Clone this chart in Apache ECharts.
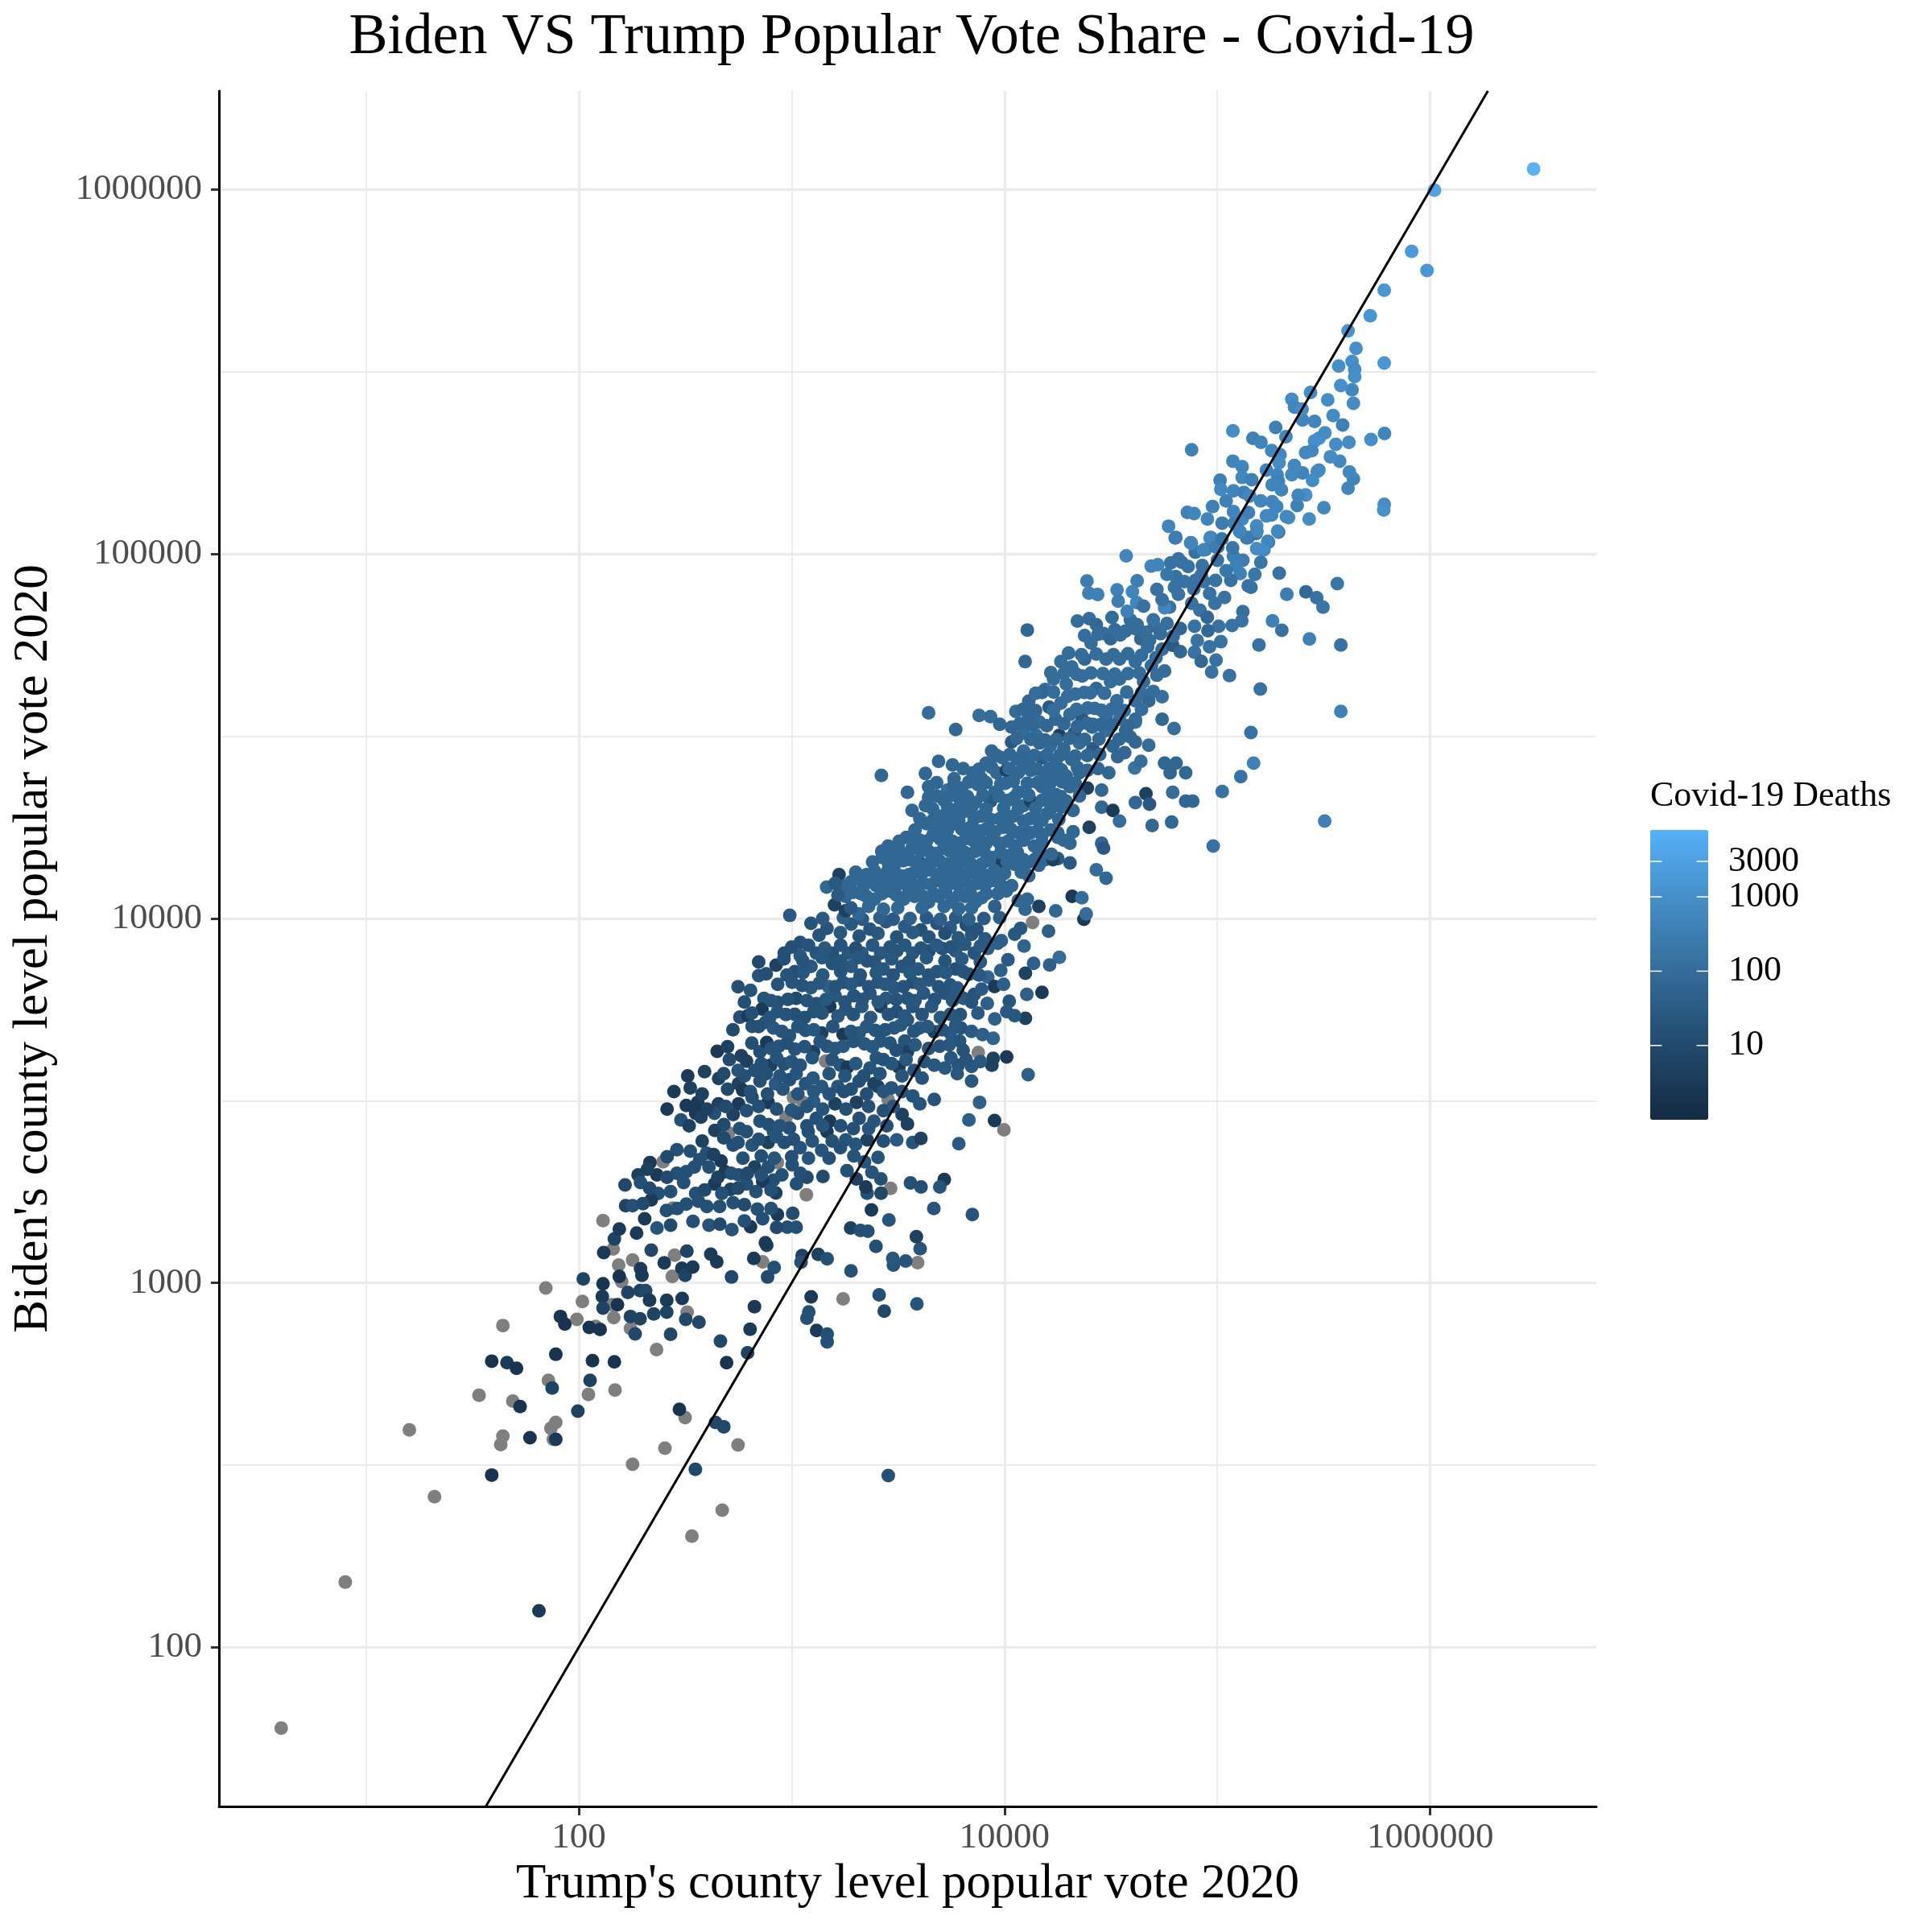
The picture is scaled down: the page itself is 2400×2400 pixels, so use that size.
<!DOCTYPE html>
<html><head><meta charset="utf-8">
<script src="https://cdn.jsdelivr.net/npm/echarts@6/dist/echarts.min.js"></script>
<style>html,body{margin:0;padding:0;background:#fff}#chart{width:2400px;height:2400px}</style>
</head><body><div id="chart"></div>
<script>
// ---------------- texts & ticks ----------------
const chartTitle = 'Biden VS Trump Popular Vote Share - Covid-19';
const xAxisTitle = "Trump's county level popular vote 2020";
const yAxisTitle = "Biden's county level popular vote 2020";
const legendTitle = 'Covid-19 Deaths';
const xTickValues = [100, 10000, 1000000];
const xTickLabels = ['100', '10000', '1000000'];
const yTickValues = [100, 1000, 10000, 100000, 1000000];
const yTickLabels = ['100', '1000', '10000', '100000', '1000000'];
const colorbarBreaks = [10, 100, 1000, 3000];
const colorbarLabels = ['10', '100', '1000', '3000'];
const deathsRange = [1, 7950];
const xRange = [2.04, 6030000];
const yRange = [36.6, 1866000];
const ablineSlope = 1, ablineIntercept = 0;

// ---------------- county rows: [Trump votes, Biden votes, Covid-19 deaths (null = NA)] ----------------
const countiesLowerLeft = [
[4,60,null],[8,151,null],[21,259,null],[16,395,null],[39,297,2],[65,126,3],[34,492,null],[44,764,null],
[39,610,2],[46,604,3],[51,583,2],[49,474,null],[53,458,2],[44,380,null],[43,360,null],[59,376,2],
[78,637,2],[72,540,null],[75,515,6],[78,414,null],[74,399,null],[76,372,null],[78,372,3],[70,968,null],
[82,809,2],[86,771,2],[98,794,null],[105,1025,6],[104,889,null],[99,445,5],[113,540,5],[111,494,null],
[116,612,2],[147,607,2],[148,508,null],[112,755,2],[120,760,null],[126,745,2],[130,995,2],[129,918,3],
[130,853,6],[143,871,null],[146,803,null],[152,871,2],[131,1211,3],[130,1483,null],[145,1239,null],[147,1320,6],
[154,1119,null],[155,1042,2],[159,1009,null],[170,942,6],[175,809,6],[194,797,6],[184,725,8],[175,750,null],
[179,318,null],[165,1857,8],[166,1630,6],[155,1405,3],[219,1230,8],[179,1156,null],[195,1094,3],[198,1049,3],
[194,953,6],[206,953,8],[215,896,3],[225,822,6],[259,831,6],[259,896,3],[270,723,8],[232,656,null],
[306,907,3],[318,794,8],[323,831,null],[367,780,8],[275,1042,null],[252,1135,3],[282,1191,null],[305,1097,3],
[316,1049,6],[343,1106,3],[322,1222,6],[417,1199,3],[445,1143,3],[522,1038,8],[664,1167,3],[731,1143,null],
[669,861,3],[638,746,3],[463,692,8],[495,604,2],[621,643,6],[297,450,2],[316,427,null],[254,352,null],
[439,414,8],[480,403,8],[560,359,null],[353,308,8],[472,238,null],[340,202,null]
];
const countiesLowerRight = [
[2845,296,15],[1235,916,3],[1745,904,null],[1204,832,15],[1180,800,15],[1310,741,3],[1469,724,15],[1469,689,15],
[2577,928,15],[2723,837,8],[3878,876,20],[1901,1079,15],[3006,1119,20],[2987,1167,25],[3434,1148,20],[3908,1137,null],
[4016,1241,20],[3855,1340,5],[2490,1260,15],[2864,1489,20],[4656,1600,20],[7063,1541,20],[5212,1923,3],[4966,1834,20],
[4054,1834,15],[3617,1880,15],[2917,1818,null],[2630,1763,8],[2263,1763,15],[2230,1834,3],[2371,1586,3],[2625,1929,15],
[2383,2013,20],[1893,1414,5],[2105,1393,15],[2281,1386,15],[2014,1929,5],[1820,2033,15],[1403,1958,10],[1180,1950,10],
[1054,1871,15],[1173,1746,null],[843,1766,5],[821,1914,15],[858,1541,3],[1012,1552,12],[955,1422,15],[1050,1422,15],
[1333,1197,5],[1469,1165,15],[1120,1189,5],[1107,1140,15],[828,1102,15],[771,1038,12],[764,1268,5]
];
const countiesCoreLower = [
[1233,9700,20],[1466,9400,20],[1904,9650,25],[2332,9350,20],[2776,9800,25],[3400,9500,30],[4048,9300,15],[4814,9700,20],
[5561,9450,30],[6613,9600,15],[7421,9350,20],[11160,9060,25],[12360,8400,60],[1097,8600,15],
[923,8040,15],[1097,7900,25],[1306,8040,20],[1553,8040,15],[1849,8040,25],[2137,8040,30],[2620,8040,25],[3117,8150,20],
[3707,8040,25],[4415,8150,15],[5100,8270,20],[5892,8150,30],[7210,8040,20],[8351,8280,40],[10380,7710,30],
[845,7450,5],[1035,7150,15],[1233,7390,25],[1553,7520,20],[1904,7390,25],[2264,7650,20],[2697,7270,25],[3303,7390,20],
[3930,7270,25],[4814,7150,20],[5892,7270,15],[6806,7030,20],[8351,6910,60],[12540,7080,5],
[700,6970,20],[1006,6680,20],[1233,6460,25],[1488,6510,40],[1745,6680,20],[2076,6780,15],[2545,6680,20],[3028,6460,25],
[3707,6680,15],[4415,6780,25],[5561,6570,20],[6425,6040,30],[7210,6190,20],[8980,6510,3],[10530,5930,20],[12730,6190,40],
[641,6350,20],[741,6040,20],[857,5890,15],[1050,6040,10],[1306,5840,15],[1600,6140,25],[1960,6140,20],[2332,6240,20],
[2776,6040,25],[3500,6040,20],[4168,6240,25],[5249,6240,20],[6064,6240,25],
[571,5360,15],[623,5410,3],[726,5640,3],[857,5550,20],[1035,5460,15],[1268,5550,20],[1510,5740,3],[1796,5640,20],
[2137,5740,25],[2620,5740,5],[3117,5550,15],[3707,5740,20],[4544,5740,25],[5561,5460,25],[10240,5550,30],[12540,5320,5],[11160,5410,25],
[652,5060,15],[753,5190,20],[821,5010,25],[977,4770,20],[1162,4930,20],[1384,4850,5],[1745,4810,3],[2076,4850,25],
[2472,4930,20],[3028,5010,25],[3500,5270,20],[3990,5010,30],[4677,4890,5],[5561,4850,30],[6242,5010,20],[6152,4610,20],[8850,4690,60],
[447,4320,3],[580,4200,5],[710,4310,15],[764,4570,3],[870,4460,20],[1035,4380,20],[1268,4310,5],[1466,4460,20],
[1745,4460,25],[2200,4530,25],[2620,4610,20],[3400,4610,20],[3500,4310,5],[4955,4460,20],[7530,4290,null],[10240,4170,3],
[614,4060,5],[560,3830,20],[670,3830,15],[798,3960,5],[923,3990,15],[1097,3960,20],[1445,4060,null],[1695,3960,20],
[1828,3910,3],[2332,3890,20],[2697,4100,20],[3191,3910,3],[3764,3830,20],[4677,3960,25],[5249,3890,25],[6064,3960,20],
[7005,3930,25],[8723,3960,5],[12910,3730,40],[8850,4130,5],
[325,3700,3],[334,3430,5],[454,3640,5],[563,3520,5],[589,3380,3],[710,3580,15],[840,3520,30],[977,3610,15],
[1162,3520,20],[1384,3460,25],[1647,3460,20],[1904,3400,15],[2076,3580,15],[2436,3520,5],[2942,3430,20],[7005,3580,25],
[320,3070,3],[362,3130,3],[453,3100,5],[563,3100,3],[652,3230,15],[775,3130,3],[1020,3230,null],[1130,3130,null],
[1268,3150,30],[1600,3100,5],[2017,3130,5],[2840,3190,null],[3707,3260,20],[4677,3190,20],[7638,3130,40],[2545,3460,5],
[302,2800,15],[354,2920,3],[375,2850,5],[434,2920,15],[531,2900,5],[614,2970,15],[710,2780,15],[942,2850,null],
[1066,2920,15],[1306,2830,15],[1510,2780,3],[2076,2830,15],[2436,2780,20],[2697,2970,15],[3303,2900,5],[3500,2730,5],
[6806,2800,40],[8980,2790,3],[9940,2630,null],
[436,2620,5],[505,2580,null],[614,2600,15],[821,2600,20],[977,2660,15],[1197,2600,15],[1466,2600,3],[1796,2470,20],
[2264,2470,5],[3117,2470,30],[3707,2430,20],[4048,2490,5],[6100,2410,30],
[289,2320,15],[334,2300,15],[398,2270,15],[466,2160,3],[531,2390,15],[652,2390,20],[775,2430,5],[923,2430,15],
[1097,2350,20],[1384,2310,20],[1695,2350,15],[1960,2230,20],[2545,2210,20],[249,2150,null],
[216,2140,3],[233,1980,3],[190,1980,5],[289,2000,15],[349,2080,15],[409,2080,15],[487,2020,3],[563,1980,15],
[670,2080,5],[775,2080,15],[857,2140,null],[1006,2110,15],
[195,1885,15],[236,1760,15],[311,1885,15],[354,1760,15],[434,1870,3],[516,1805,5],[614,1870,15],[731,1900,3],
[179,1630,15],[219,1690,3],[258,1580,15],[277,1605,null],[320,1645,15],[365,1675,15],[459,1620,15],[531,1660,15],[690,1595,15],
[204,1500,3],[233,1415,20],[187,1370,3],[344,1475,15],[409,1440,20],[524,1400,20],[641,1425,3],[731,1500,15],[753,1290,3],
[16100,9230,40],[23600,9950,3],[13550,9750,null],[11900,9400,25],[18100,7820,100],[16300,7460,40],[13700,7530,40],[15000,6270,3]
];
const countiesCoreLowerB = [
[1345,9000,20],[1695,9150,25],[2076,8950,20],[2545,9100,25],[3117,8900,20],[3707,9150,30],[4415,8900,20],[5249,9100,15],[6064,8850,25],[7005,9050,20],[8100,8800,30],[9660,8700,40],
[1000,8350,15],[1200,8450,20],[1430,8300,25],[1700,8450,20],[2000,8300,15],[2400,8450,25],[2900,8350,20],[3400,8450,25],[4050,8300,20],[4800,8450,30],[5600,8350,20],[6500,8500,25],[7700,8400,30],[9300,8550,40],
[700,7600,10],[920,7750,15],[1130,7650,20],[1390,7800,25],[1700,7650,20],[2050,7800,25],[2450,7600,20],[2950,7750,25],[3550,7600,20],[4300,7800,25],[5250,7650,20],[6300,7750,30],[7700,7600,30],
[760,7050,15],[950,7000,20],[1130,7100,20],[1400,7000,25],[1700,7150,20],[2100,7000,20],[2500,7100,25],[3000,7000,20],[3600,7100,25],[4400,7000,20],[5300,7100,25],[6400,7150,20],[7600,7000,30],[9600,7200,40],
[560,6500,15],[860,6600,20],[1120,6550,20],[1350,6650,25],[1600,6500,20],[1900,6600,25],[2300,6500,20],[2750,6600,25],[3350,6500,20],[4000,6600,25],[4900,6500,20],[6000,6450,30],[7800,6400,30],[9900,6600,40],
[600,5900,15],[800,5950,20],[960,6000,15],[1180,5950,20],[1450,6000,25],[1780,5900,20],[2150,6000,20],[2550,5900,25],[3100,6000,20],[3800,5950,25],[4700,6000,20],[5700,5950,25],[7000,5900,20],[8300,5850,40],
[650,5500,15],[790,5350,20],[940,5450,20],[1150,5350,15],[1390,5500,20],[1650,5400,25],[1950,5450,20],[2350,5350,25],[2850,5450,20],[3400,5400,25],[4100,5450,20],[5000,5350,25],[6200,5450,20],[7500,5500,30],[9000,5300,40],
[530,4950,10],[700,5050,15],[900,4900,20],[1070,5050,20],[1270,4950,25],[1560,5050,20],[1900,4900,20],[2250,5050,25],[2750,4950,20],[3250,5100,25],[3750,4900,20],[4350,5050,25],[5100,4950,20],[5900,5100,25],[7000,4900,30],[7900,4800,40],
[500,4450,5],[650,4550,15],[800,4400,20],[950,4550,15],[1150,4450,20],[1360,4600,20],[1600,4400,25],[1950,4600,20],[2400,4450,25],[2900,4550,20],[3100,4350,15],[3800,4500,25],[4400,4400,20],[5500,4500,25],[6400,4350,20],
[510,4100,10],[720,4000,15],[850,4150,20],[1000,4050,20],[1250,4150,20],[1550,4100,20],[2000,4000,25],[2500,4150,20],[2950,4000,20],[3450,4100,25],[4200,4050,20],[5600,4150,25],[6600,4100,20],[7700,4050,25],
[390,3800,5],[480,3750,10],[600,3700,15],[760,3750,15],[880,3700,20],[1050,3750,20],[1260,3650,25],[1500,3750,20],[1780,3700,20],[2180,3700,15],[2600,3750,20],[3300,3700,20],[4100,3650,20],[6000,3750,25],
[280,3350,3],[380,3300,5],[500,3400,10],[640,3350,15],[770,3300,15],[910,3400,20],[1070,3300,20],[1270,3350,25],[1500,3300,20],[1760,3350,15],[2250,3300,15],[2700,3350,20],[3300,3350,20],
[260,3000,3],[400,3000,5],[490,3050,10],[700,3050,15],[850,3000,15],[1000,2980,20],[1180,3050,20],[1400,3000,20],[1800,3000,15],[2300,3050,15],[3000,3050,20],[4000,3100,20],
[330,2700,5],[480,2720,10],[570,2650,15],[780,2720,15],[880,2700,20],[1180,2700,15],[1400,2700,20],[1700,2700,15],[1950,2650,15],[2300,2650,20],[2800,2700,15],
[380,2450,5],[480,2500,10],[560,2430,15],[700,2480,15],[850,2520,20],[1020,2480,15],[1250,2450,20],[1550,2450,15],[2000,2400,20],[2700,2450,15],
[260,2220,10],[370,2180,15],[430,2250,5],[590,2200,15],[720,2230,15],[830,2200,20],[1000,2220,15],[1200,2200,20],[1500,2200,15],[2200,2150,20],
[210,2050,5],[260,1950,10],[320,2020,15],[450,1950,5],[520,2000,15],[620,2000,10],[720,1980,15],[900,1980,15],[1100,2000,15],
[215,1820,10],[270,1780,15],[390,1800,10],[470,1760,15],[560,1820,10],[680,1780,15],[800,1800,15],
[200,1650,10],[290,1600,15],[400,1620,15],[600,1640,10],[800,1600,15],
[270,1440,10],[460,1450,10],[600,1480,15],[850,1420,10],
[1400,10000,30],[1750,10050,40],[2150,9950,30],[2600,10050,40],[3000,9950,30],[3600,10000,40],[4300,10050,30],[5000,9950,40],[5900,10050,30],[6800,9950,40],[8000,10000,30],[9500,10050,40]
];
const countiesCoreUpper = [
[12800,61900,70],[12500,50700,70],[22000,65500,100],[25000,66500,100],[27000,64000,80],[32000,67000,100],[39000,66000,100],[50500,63500,100],
[58000,64500,120],[67000,62500,70],[25500,57000,100],[29200,60500,100],[31500,58600,70],[35000,60000,100],[43700,58600,70],[47000,55700,100],
[55000,54800,100],[61700,56200,30],[67000,54000,70],[18400,50700,100],[20700,49000,100],[23800,51500,70],[30000,51500,100],[34700,51500,100],
[41200,50700,100],[49000,49400,100],[56500,47800,100],[17000,45400,100],[15500,42500,100],[19500,44000,100],[23200,46300,100],[27000,42800,70],
[31500,44700,100],[34700,45400,100],[45000,44700,100],[13000,39500,70],[15000,41700,70],[16200,38000,30],[18400,39000,100],[19800,40700,100],
[23700,41700,100],[26500,37700,100],[33700,39600,100],[41200,39600,100],[47600,39600,70],[55000,40600,120],[11300,37000,100],[13000,35800,70],
[14600,34600,100],[17400,35200,70],[20300,36300,100],[23200,35200,30],[26000,34100,100],[30000,35800,100],[34700,35200,100],[41200,35200,70],
[55000,35200,70],[62600,33200,120],[7600,36100,100],[8600,35800,100],[9500,34100,70],[4400,36700,100],[5900,33000,70],
[10800,33500,70],[12300,32300,100],[14100,31800,100],[18100,31800,5],[21300,32300,30],[25800,33500,70],[30000,32800,100],[37100,32800,70],[41200,34600,100],
[10800,30500,30],[12300,28800,100],[14600,30300,70],[16400,29700,100],[19000,29200,70],[22500,30300,100],[26000,29200,30],[32300,29700,70],
[36700,28500,70],[41200,30500,70],[47600,29900,100],
[8700,28800,70],[9800,27600,70],[11500,27300,70],[13000,26400,70],[15000,27600,30],[17400,26700,70],[20700,27300,70],[24500,25500,70],
[30900,25100,70],[40900,25900,150],[43700,27000,100],[56500,26700,70],[64000,26700,70],[60000,25100,70],[71000,25100,70],
[4900,27000,70],[5700,26400,70],[8200,26700,70],[4250,25000,70],[2640,24700,70],
[5800,24200,70],[7100,25100,70],[7800,24200,70],[9200,25100,70],[10200,25500,5],[11600,25100,70],[13300,25500,70],[15500,24600,70],
[17400,24200,70],[19500,24600,70],[22500,25100,70],
[4400,23000,70],[5400,22500,100],[6300,22800,70],[7500,23300,70],[9000,22200,70],[10100,23500,70],[11600,22200,70],[15000,23000,70],
[17400,21900,70],[20300,23000,70],[24500,22800,5],[28600,22500,70],[46200,22000,5],[61700,22200,100],
[3500,22200,70],[4400,21500,70],[5200,21100,70],[6200,21100,70],[7300,20800,70],[8600,21000,30],[10400,21100,70],[12300,20400,70],
[13300,21000,5],[15000,21100,70],[17400,20400,70],[19500,21000,70],[41200,20800,70],[48000,20600,30],[71000,21000,70],
[3680,19800,70],[4250,20400,70],[4900,19100,70],[5650,19700,70],[6500,19700,70],[7800,19100,70],[9500,18800,70],[11000,19100,70],
[12300,18500,70],[14100,18800,70],[15900,19400,70],[28600,20200,70],[32300,19800,3],[34700,18500,100],
[4300,18200,70],[5000,17800,70],[5800,18200,70],[6900,17800,70],[8200,17600,70],[9800,17800,70],[11600,17200,70],[13300,17200,70],
[15000,16900,70],[17800,17200,70],[25000,17800,5],[49400,18000,70],[61000,18400,70],
[3460,16700,70],[4000,16400,70],[4600,16900,70],[5350,16700,70],[6150,16100,70],[7100,16400,70],[8200,16100,70],[9500,16100,70],
[11300,15800,70],[13800,15800,70],[17800,16700,70],[20300,16100,70],[28600,16100,70],[29200,15600,30],
[2840,15800,70],[3180,15600,70],[3680,15600,70],[4400,15300,70],[5200,15600,70],[5950,15000,70],[7300,15300,70],[8700,14700,70],
[10800,15000,70],[12300,14500,70],[13800,14500,70],[15500,14500,70],[17800,14600,30],[20300,14200,30],
[2670,14700,70],[3090,14200,70],[3600,14500,70],[4080,14100,5],[4600,14300,70],[5350,14100,70],[6300,14300,70],[7800,14100,70],
[9200,14100,70],[9800,14300,5],[11300,14100,70],[16900,14500,5],[27000,13600,100],[30000,12900,70],
[2450,13500,70],[2840,13600,70],[3270,13100,70],[3780,13400,70],[4400,13600,70],[5200,13800,70],[5900,13400,70],[7100,13400,70],
[8200,13100,70],[9000,13500,70],[11100,14100,70],[13000,13100,70],
[1670,13200,5],[1790,12300,70],[1460,12200,70],[2020,12900,70],[2320,12700,70],[2670,12500,70],[3090,12300,70],[3600,12700,70],
[4120,12500,70],[4900,12700,70],[5650,12500,70],[6500,12700,70],[7500,12500,70],[8700,12700,70],[10800,12300,70],
[1590,10900,5],[1790,11500,70],[2120,11700,70],[2450,11300,70],[2900,11900,70],[3360,11300,70],[3780,11500,70],[4400,11100,70],
[4900,11500,70],[5650,11100,70],[6500,11500,70],[7300,11100,70],[8200,11700,70],[10200,11900,70],[11600,11200,70],[14500,10800,5],
[20800,11500,3],[23100,11400,100],[17400,10500,70],[1790,10500,5],[2070,10300,70],[24200,10300,100],[980,10200,30]
];
const countiesCoreUpperB = [
[1900,10700,30],[2300,10800,70],[2700,10600,70],[3150,10700,70],[4100,10700,70],[5200,10800,70],[6100,10650,70],[7000,10700,70],[9000,10800,40],[12500,10600,70],
[1650,11600,30],[1950,11800,70],[2250,11500,70],[2650,11700,70],[3100,11600,70],[3550,11800,70],[4150,11500,70],[4650,11700,70],[5300,11800,70],[6100,11600,70],[6900,11800,70],[7800,11400,70],[9300,11700,70],[12800,11300,70],
[1600,12500,30],[1900,12600,70],[2180,12300,70],[2500,12300,70],[2900,12600,70],[3350,12500,70],[3850,12300,70],[4500,12400,70],[5250,12300,70],[6100,12350,70],[7000,12300,70],[8100,12350,70],[9500,12500,70],
[2000,13400,70],[2250,13200,70],[2620,13100,70],[3050,13400,70],[3550,13200,70],[4100,13300,70],[4800,13200,70],[5500,13100,70],[6500,13200,70],[7600,13300,70],[8600,13200,70],[10000,13300,70],[12000,13400,70],
[2400,14300,70],[2850,14200,70],[3350,14400,70],[3850,14300,70],[4350,14100,70],[4950,14400,70],[5800,14200,70],[6900,14200,70],[8400,14400,70],[10300,14300,70],[12800,14200,70],[14500,14000,70],
[2650,15300,70],[3000,15200,70],[3450,15000,70],[4050,15300,70],[4800,15100,70],[5550,15300,70],[6500,15200,70],[8000,15300,70],[9600,15200,70],[11500,15200,70],[14600,15200,70],[16600,15000,70],
[3200,16300,70],[3750,16500,70],[4300,16300,70],[5000,16500,70],[5700,16300,70],[6600,16600,70],[7700,16400,70],[8800,16600,70],[10400,16300,70],[12300,16400,70],[15000,16200,70],[19000,16400,70],
[3800,17500,70],[4700,17400,70],[5400,17500,70],[6300,17600,70],[7500,17400,70],[9000,17300,70],[10700,17600,70],[12400,17500,70],[14300,17400,70],[16500,17500,70],[21000,17300,70],
[4000,18800,70],[4600,18600,70],[5300,18700,70],[6100,18600,70],[7200,18800,70],[8600,18700,70],[10300,18600,70],[13200,18800,70],[15000,18600,70],[18000,18700,70],
[4600,20000,70],[5400,20200,70],[6000,20000,70],[7000,20200,70],[8200,20000,70],[9900,20100,70],[11600,20000,70],[14000,20100,70],[16500,20000,70],[18500,20200,70],[21000,19800,70],
[4800,21700,70],[5700,21800,70],[6700,21600,70],[7900,21800,70],[9400,21700,70],[11100,21500,70],[13000,21800,70],[16000,21700,70],[18400,21600,70],[22500,21700,70],
[4800,23600,70],[5800,23400,70],[6800,23700,70],[8200,23600,70],[9600,23400,70],[11000,23800,70],[12800,23500,70],[14300,23600,70],[16300,23400,70],[18700,23700,70],[21500,23500,70],
[6400,25800,70],[7600,25700,70],[8700,26000,70],[10500,25800,70],[12300,25900,70],[14200,25700,70],[16200,25800,70],[18500,25600,70],[22000,26000,70],[27500,25800,70],
[9200,28000,70],[10600,28200,70],[12000,27800,70],[13800,28000,70],[15800,28100,70],[18200,28000,70],[21500,27900,70],[24500,28000,70],[28000,28200,70],[34000,27800,70],
[11400,31200,70],[13300,31000,70],[15500,30900,70],[17500,31000,70],[20200,31200,70],[23800,31000,70],[27800,31100,70],[34500,31000,70],[39000,31500,70],
[11800,34300,70],[13500,34000,70],[15800,33800,70],[19000,34200,70],[22000,33700,70],[24500,34300,70],[28000,34000,70],[32000,33900,70],[38000,33800,70],
[12200,37500,70],[14000,37200,70],[17000,37300,100],[21800,37500,100],[24600,37800,100],[28500,37300,100],[32000,37600,100],[36500,37200,100],[44000,37500,100],
[14000,41500,100],[17000,41800,100],[21500,41300,100],[25300,41600,100],[29500,41500,100],[37500,41800,100],[44000,41600,100],[50000,42000,100],
[16500,47300,100],[19000,47000,100],[21800,46800,100],[25500,47200,100],[29000,47000,100],[33000,46800,100],[38000,47000,100],[43000,47200,100],[52000,46500,100],
[20000,53500,100],[23000,53000,100],[27000,53200,100],[32500,53000,100],[38000,53300,100],[44000,52800,100],[51500,52000,100],
[23800,59800,100],[27500,60200,100],[33000,62000,100],[37000,61500,100],[41000,62500,100],[46000,61000,100],[54000,60500,100],[62000,59500,100]
];
const countiesUpper = [
[63800,111100,150],[75000,107400,150],[93000,111100,150],[100500,104700,150],[87700,102900,150],[78800,101200,150],[128000,115000,150],[139600,111100,120],
[152000,113900,150],[173800,108000,150],[165500,102900,300],[194000,114900,150],
[65600,97000,150],[72900,92500,150],[60400,94600,150],[100000,96200,150],[84000,87600,150],[63800,86800,150],[119000,98700,300],[131800,96200,300],
[122400,92900,400],[128000,88400,400],[115600,84700,150],[98000,84700,150],[86400,84000,150],[78800,84700,150],[62900,81100,150],[77500,80300,150],
[65600,77600,150],[139600,81800,150],[143800,81100,150],[195200,88700,150],[212000,77600,300],[260800,78800,80],[293000,75900,150],[313500,71500,200],
[366100,83000,200],[181600,65600,400],[200800,61800,150],[270700,58500,400],[380300,56300,150],
[97400,73300,150],[75800,73300,150],[59600,71500,150],[82800,70200,150],[89700,67100,80],[131800,69500,120],[130200,65600,150],[117300,63700,150],
[101500,63400,150],[90300,61600,80],[78100,63400,150],
[80500,57900,150],[91900,55700,150],[103800,57500,150],[78100,53800,150],[84000,50800,80],[98600,51200,150],[94000,47500,150],[114000,46400,150],
[156800,56300,150],[159200,42600,150],[143800,32400,150],[380300,37000,400],
[148000,26700,400],[128800,24500,150],[105400,22300,150],[76600,21000,80],[319300,18500,400],[95600,15800,150],
[608000,529700,1500],[522700,450700,1500],[411200,410000,1200],[448300,367000,1000],[608000,334400,1500],[371500,328000,1000],[429400,338000,1000],[441800,321600,800],
[441800,307200,1000],[429400,282300,600],[435600,259400,800],[274000,277700,800],[223700,266000,800],[230300,253000,500],[251300,233300,500],[286300,231200,500],
[187900,222600,400],[387800,226000,400],[118300,217900,800],[146900,207900,400],[160300,202500,500],[300000,207900,1000],[286000,204300,1000],[278100,192400,600],
[415000,202500,800],[527000,206200,1000],[610000,214200,500],[179900,192400,500],[197000,187500,600],[195000,178200,800],[375600,179900,600],[118300,179900,500],
[130800,173700,500],[130800,162300,600],[191000,165200,500],[193500,158500,400],[223700,165200,600],[251300,167000,500],[294700,168600,800],[280000,159300,800],
[417200,168000,600],[435600,161000,500],[411200,151700,500],[181000,155000,500],[75700,193400,400],[103000,159500,400],[103800,150600,600],[119000,149100,500],
[133300,147600,400],[142000,144300,600],[181000,139300,500],[237100,135900,400],[260000,145300,1000],[316600,134100,600],[270000,124800,800],[608000,137000,800],
[605000,132200,1000],[216000,125900,800],[211000,126800,600],[179900,128000,600],[170000,127300,600],[119000,130800,500],[130800,124800,600],[153000,119600,800],
[153500,115600,600],[192000,115600,600],[172400,108400,500],[164000,102600,800],[153000,103500,800],[137500,110800,300],[120000,121600,400],[127000,115600,500],
[89800,124800,500],[105300,121600,300],[72300,130100,400],[77800,129200,500],[59000,119300,500],[63400,110800,300],[75500,107100,500],[86100,102600,500],
[92500,110800,600],[98700,104400,300],[37300,98900,500],[48900,92700,500],[52500,93500,500],[24400,84400,300],[24900,78200,400],[27400,77500,400],
[33800,79800,400],[34200,74300,300],[42000,84500,300],[39900,78900,500],[41800,73600,500],[37700,69600,400],[56500,71200,500],
[3060000,1140000,7900],[1047000,996500,3500],[818000,677000,2000],[966000,600000,1500]
];
const countiesUpperB = [
[45000,72000,150],[52000,80000,150],[58000,88000,200],[68000,95000,150],[85000,93000,150],[92000,78000,150],[108000,76000,150],[110000,90000,200],
[70000,84000,150],[50000,66000,150],[55000,75000,150],[118000,104000,200],[105000,110000,200],[160000,95000,200],[150000,88000,200],[42000,64000,100],[48000,58000,100],
[140000,130000,400],[160000,140000,500],[200000,150000,500],[230000,175000,600],[260000,190000,600],[320000,215000,800],[350000,240000,800],[210000,210000,600],
[170000,170000,500],[145000,160000,400],[190000,135000,500],[240000,145000,500],[300000,170000,700],[340000,185000,800],[360000,200000,800],[250000,250000,800],
[330000,265000,900],[380000,290000,1000],[110000,140000,400],[95000,135000,400]
];

// ---------------- build ----------------
const FONT = 'Liberation Serif';
const allCounties = [].concat(countiesLowerLeft, countiesLowerRight, countiesCoreLower, countiesCoreLowerB,
  countiesCoreUpper, countiesCoreUpperB, countiesUpper, countiesUpperB);
const withDeaths = allCounties.filter(r => r[2] != null).map(r => [r[0], r[1], Math.log10(r[2])]);
const noDeaths = allCounties.filter(r => r[2] == null).map(r => [r[0], r[1]]);

// ggplot-like Lab interpolation between low/high colours
function hex2rgb(h){return [1,3,5].map(i=>parseInt(h.substr(i,2),16));}
function toLin(c){c/=255;return c<=0.04045?c/12.92:Math.pow((c+0.055)/1.055,2.4);}
function fromLin(c){c=c<=0.0031308?12.92*c:1.055*Math.pow(c,1/2.4)-0.055;return Math.max(0,Math.min(255,Math.round(c*255)));}
function rgb2lab(rgb){const [r,g,b]=rgb.map(toLin);
  let X=(0.4124*r+0.3576*g+0.1805*b)/0.95047, Y=0.2126*r+0.7152*g+0.0722*b, Z=(0.0193*r+0.1192*g+0.9505*b)/1.08883;
  const f=t=>t>0.008856?Math.cbrt(t):7.787*t+16/116; const fx=f(X),fy=f(Y),fz=f(Z);
  return [116*fy-16,500*(fx-fy),200*(fy-fz)];}
function lab2hex(lab){const fy=(lab[0]+16)/116, fx=fy+lab[1]/500, fz=fy-lab[2]/200;
  const fi=t=>t*t*t>0.008856?t*t*t:(t-16/116)/7.787;
  const X=fi(fx)*0.95047, Y=fi(fy), Z=fi(fz)*1.08883;
  const r=3.2406*X-1.5372*Y-0.4986*Z, g=-0.9689*X+1.8758*Y+0.0415*Z, b=0.0557*X-0.2040*Y+1.0570*Z;
  return '#'+[r,g,b].map(v=>fromLin(v).toString(16).padStart(2,'0')).join('');}
const lowLab = rgb2lab(hex2rgb('#132B43')), highLab = rgb2lab(hex2rgb('#56B1F7'));
const gradient = [];
for (let i=0;i<=16;i++){const t=i/16; gradient.push(lab2hex(lowLab.map((v,k)=>v+(highLab[k]-v)*t)));}

// layout of the panel
const G = {left: 272, top: 113, width: 1711, height: 2131};
const xl = [Math.log10(xRange[0]), Math.log10(xRange[1])];
const yl = [Math.log10(yRange[0]), Math.log10(yRange[1])];
const pxX = G.width/(xl[1]-xl[0]), pxY = G.height/(yl[1]-yl[0]);
function xSubGrid(a,b){return {left:G.left+(a-xl[0])*pxX, top:G.top, width:(b-a)*pxX, height:G.height};}
function ySubGrid(a,b){return {left:G.left, top:G.top+(yl[1]-b)*pxY, width:G.width, height:(b-a)*pxY};}
const xMaj=[Math.log10(xTickValues[0]), Math.log10(xTickValues[xTickValues.length-1])];
const yMaj=[Math.log10(yTickValues[0]), Math.log10(yTickValues[yTickValues.length-1])];
const xMin=[xMaj[0]-1, xMaj[1]-1];
const yMin=[yMaj[0]+0.5, yMaj[1]-0.5];
const CB = {left: 2050, top: 1031, width: 72, height: 360};

function labelFor(values, labels){
  return v => { const i = values.findIndex(t => Math.abs(Math.log10(t)-v) < 1e-6); return i>=0 ? labels[i] : ''; };
}
const MAJOR = {color:'#EBEBEB', width:3.3};
const MINOR = {color:'#EBEBEB', width:1.8};
const hidden = {show:false};

const abX = [Math.max(xRange[0], yRange[0]), Math.min(xRange[1], yRange[1])];
const ablineData = abX.map(x => [x, Math.pow(10, ablineIntercept) * Math.pow(x, ablineSlope)]);

const chart = echarts.init(document.getElementById('chart'), null, {renderer:'canvas', width:2400, height:2400});
chart.setOption({
  animation:false,
  backgroundColor:'#ffffff',
  title:[
    {text:chartTitle, left:G.left+G.width/2, textAlign:'center', top:6,
     textStyle:{fontFamily:FONT, fontSize:72, fontWeight:'normal', color:'#000'}},
    {text:legendTitle, left:CB.left-5, top:962,
     textStyle:{fontFamily:FONT, fontSize:44, fontWeight:'normal', color:'#000'}}
  ],
  grid:[
    Object.assign({}, G),
    xSubGrid(xMaj[0], xMaj[1]),
    xSubGrid(xMin[0], xMin[1]),
    ySubGrid(yMaj[0], yMaj[1]),
    ySubGrid(yMin[0], yMin[1]),
    Object.assign({}, CB)
  ],
  xAxis:[
    {type:'log', logBase:10, gridIndex:0, min:xRange[0], max:xRange[1], z:3,
     axisLine:{show:true, onZero:false, lineStyle:{color:'#000', width:3}},
     axisTick:hidden, axisLabel:hidden, splitLine:hidden,
     name:xAxisTitle, nameLocation:'middle', nameGap:66,
     nameTextStyle:{fontFamily:FONT, fontSize:61, color:'#000'}},
    {type:'value', gridIndex:1, min:xMaj[0], max:xMaj[1], interval:2, position:'bottom',
     axisLine:hidden, axisTick:{show:true, length:11, lineStyle:{color:'#333333', width:3}},
     axisLabel:{show:true, margin:17, fontFamily:FONT, fontSize:45, color:'#4D4D4D', formatter:labelFor(xTickValues, xTickLabels)},
     splitLine:{show:true, lineStyle:MAJOR}},
    {type:'value', gridIndex:2, min:xMin[0], max:xMin[1], interval:2,
     axisLine:hidden, axisTick:hidden, axisLabel:hidden, splitLine:{show:true, lineStyle:MINOR}},
    {type:'value', gridIndex:3, show:false},
    {type:'value', gridIndex:4, show:false},
    {type:'value', gridIndex:5, min:0, max:1, show:false}
  ],
  yAxis:[
    {type:'log', logBase:10, gridIndex:0, min:yRange[0], max:yRange[1], z:3,
     axisLine:{show:true, onZero:false, lineStyle:{color:'#000', width:3}},
     axisTick:hidden, axisLabel:hidden, splitLine:hidden,
     name:yAxisTitle, nameLocation:'middle', nameGap:200, nameRotate:90,
     nameTextStyle:{fontFamily:FONT, fontSize:61, color:'#000'}},
    {type:'value', gridIndex:1, show:false},
    {type:'value', gridIndex:2, show:false},
    {type:'value', gridIndex:3, min:yMaj[0], max:yMaj[1], interval:1, position:'left',
     axisLine:hidden, axisTick:{show:true, length:10, lineStyle:{color:'#333333', width:3}},
     axisLabel:{show:true, margin:21, fontFamily:FONT, fontSize:45, color:'#4D4D4D', formatter:labelFor(yTickValues, yTickLabels)},
     splitLine:{show:true, lineStyle:MAJOR}},
    {type:'value', gridIndex:4, min:yMin[0], max:yMin[1], interval:1,
     axisLine:hidden, axisTick:hidden, axisLabel:hidden, splitLine:{show:true, lineStyle:MINOR}},
    {type:'value', gridIndex:5, min:Math.log10(deathsRange[0]), max:Math.log10(deathsRange[1]), show:false}
  ],
  visualMap:[{
    type:'continuous', seriesIndex:1, dimension:2,
    min:Math.log10(deathsRange[0]), max:Math.log10(deathsRange[1]),
    inRange:{color:gradient}, calculable:false, realtime:false,
    itemWidth:CB.width, itemHeight:CB.height, left:CB.left-5, top:CB.top-5,
    text:null, padding:5, hoverLink:false
  }],
  series:[
    {type:'scatter', name:'NA', xAxisIndex:0, yAxisIndex:0, data:noDeaths, symbol:'circle', symbolSize:17,
     itemStyle:{color:'#7F7F7F', opacity:1}, emphasis:{disabled:true}, z:2},
    {type:'scatter', name:'deaths', xAxisIndex:0, yAxisIndex:0, data:withDeaths, symbol:'circle', symbolSize:17,
     itemStyle:{opacity:1}, emphasis:{disabled:true}, z:2},
    {type:'line', xAxisIndex:0, yAxisIndex:0, data:ablineData, symbol:'none',
     lineStyle:{color:'#000', width:3}, z:4, silent:true},
    {type:'custom', xAxisIndex:5, yAxisIndex:5, z:10, silent:true,
     data:colorbarBreaks.map(b => [0, Math.log10(b)]),
     renderItem:function(params, api){
       const yv = api.value(1);
       const p0 = api.coord([0, yv]), p1 = api.coord([1, yv]);
       const seg = (p1[0]-p0[0])*0.2;
       return {type:'group', children:[
         {type:'line', shape:{x1:p0[0], y1:p0[1], x2:p0[0]+seg, y2:p0[1]}, style:{stroke:'#ffffff', lineWidth:1.5}},
         {type:'line', shape:{x1:p1[0]-seg, y1:p1[1], x2:p1[0], y2:p1[1]}, style:{stroke:'#ffffff', lineWidth:1.5}},
         {type:'text', x:p1[0]+25, y:p1[1], style:{text:colorbarLabels[params.dataIndex], fontFamily:FONT, fontSize:44, fill:'#000', verticalAlign:'middle', align:'left'}}
       ]};
     }}
  ]
});
</script></body></html>
